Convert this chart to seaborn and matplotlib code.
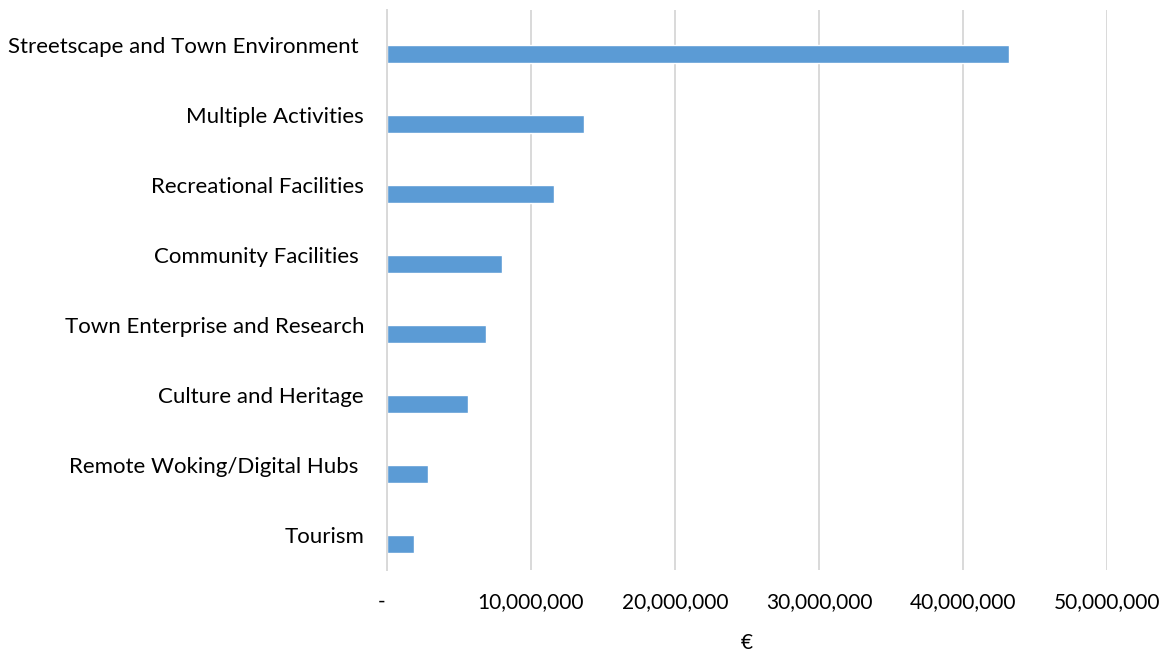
import matplotlib
matplotlib.use("Agg")
import matplotlib.pyplot as plt
import numpy as np
import pandas as pd
import seaborn as sns

# Funding by project theme (EUR)
themes = [
    "Streetscape and Town Environment ",
    "Multiple Activities",
    "Recreational Facilities",
    "Community Facilities ",
    "Town Enterprise and Research",
    "Culture and Heritage",
    "Remote Woking/Digital Hubs ",
    "Tourism",
]
funding = [43200000, 13650000, 11600000, 8000000, 6900000, 5650000, 2830000, 1900000]
x_ticks = [0, 10000000, 20000000, 30000000, 40000000, 50000000]
x_tick_labels = ["-  ", "10,000,000", "20,000,000", "30,000,000", "40,000,000", "50,000,000"]

sns.set_theme(style="white")
plt.rcParams["font.family"] = ["Lato", "DejaVu Sans"]

# Two series per theme: an empty placeholder and the funding amount, dodged
df = pd.DataFrame({
    "theme": themes * 2,
    "series": ["blank"] * len(themes) + ["Funding"] * len(themes),
    "value": [np.nan] * len(themes) + funding,
})

fig = plt.figure(figsize=(11.68, 6.52), dpi=100)
ax = fig.add_axes([0.3313, 0.1258, 0.6165, 0.8589])

sns.barplot(
    data=df, y="theme", x="value", hue="series",
    hue_order=["blank", "Funding"],
    palette={"blank": "#5B9BD5", "Funding": "#5B9BD5"},
    order=themes, orient="h", dodge=True, width=0.52,
    legend=False, ax=ax, saturation=1,
)

ax.set_xlim(0, 50000000)
ax.set_xticks(x_ticks)
ax.set_xticklabels(x_tick_labels)
ax.xaxis.grid(True, color="#D9D9D9", linewidth=1.4)
ax.set_axisbelow(True)
ax.yaxis.grid(False)
for side in ["top", "right", "bottom"]:
    ax.spines[side].set_visible(False)
ax.spines["left"].set_color("#D9D9D9")
ax.spines["left"].set_linewidth(1.4)

ax.tick_params(axis="x", length=0, pad=16, labelsize=15, labelcolor="#000000")
ax.tick_params(axis="y", length=0, pad=16.5, labelsize=16, labelcolor="#000000")
ax.set_ylabel("")
ax.set_xlabel("€", fontsize=15, color="#000000", labelpad=15)

fig.savefig("out.png", dpi=100, facecolor="white")
